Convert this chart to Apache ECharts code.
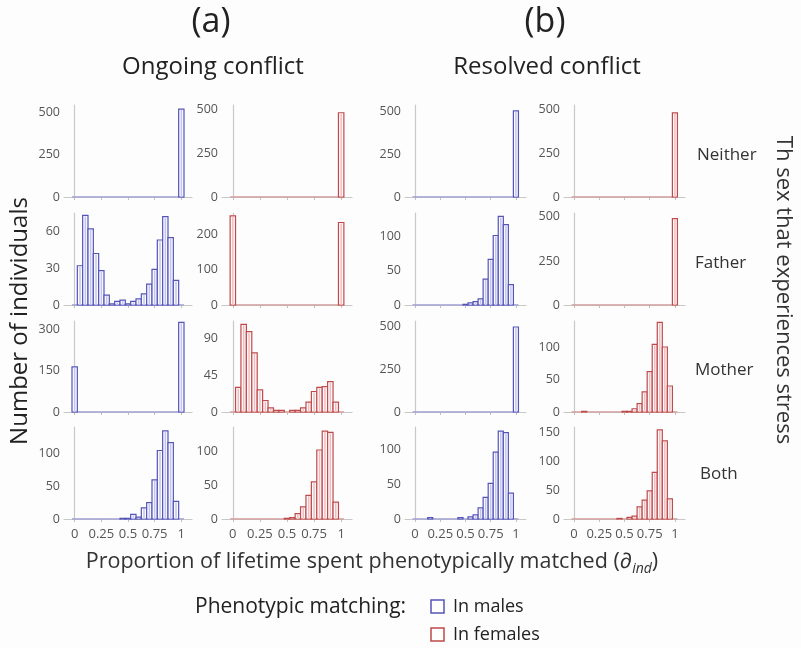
<!DOCTYPE html>
<html>
<head>
<meta charset="utf-8">
<script src="https://cdn.jsdelivr.net/npm/echarts@6/dist/echarts.min.js"></script>
<style>
  html, body { margin: 0; padding: 0; background: #fdfdfd; }
  #chart { width: 801px; height: 648px; }
</style>
</head>
<body>
<div id="chart"></div>
<script>
// bin centres (width 0.05)
var binCenters = [0, 0.05, 0.1, 0.15, 0.2, 0.25, 0.3, 0.35, 0.4, 0.45, 0.5, 0.55, 0.6, 0.65, 0.7, 0.75, 0.8, 0.85, 0.9, 0.95, 1];
var stressRows = ['Neither', 'Father', 'Mother', 'Both'];
var xTicks = [0, 0.25, 0.5, 0.75, 1];

// (a) ongoing conflict
var ongoingMaleNeither   = [0, 0, 0, 0, 0, 0, 0, 0, 0, 0, 0, 0, 0, 0, 0, 0, 0, 0, 0, 0, 522];
var ongoingMaleFather    = [0, 32, 73, 62, 42, 28, 8, 1, 3, 4, 1, 3, 5, 9, 17, 29, 53, 72, 55, 20, 0];
var ongoingMaleMother    = [164, 0, 0, 0, 0, 0, 0, 0, 0, 0, 0, 0, 0, 0, 0, 0, 0, 0, 0, 0, 325];
var ongoingMaleBoth      = [0, 0, 0, 0, 0, 0, 0, 0, 0, 1, 1, 7, 3, 17, 25, 60, 105, 135, 117, 27, 0];
var ongoingFemaleNeither = [0, 0, 0, 0, 0, 0, 0, 0, 0, 0, 0, 0, 0, 0, 0, 0, 0, 0, 0, 0, 480];
var ongoingFemaleFather  = [254, 0, 0, 0, 0, 0, 0, 0, 0, 0, 0, 0, 0, 0, 0, 0, 0, 0, 0, 0, 235];
var ongoingFemaleMother  = [0, 30, 107, 98, 72, 27, 14, 5, 2, 2, 0, 2, 2, 5, 12, 25, 30, 31, 37, 12, 0];
var ongoingFemaleBoth    = [0, 0, 0, 0, 0, 0, 0, 0, 0, 0, 1, 2, 8, 18, 35, 55, 102, 130, 128, 25, 0];

// (b) resolved conflict
var resolvedMaleNeither   = [0, 0, 0, 0, 0, 0, 0, 0, 0, 0, 0, 0, 0, 0, 0, 0, 0, 0, 0, 0, 505];
var resolvedMaleFather    = [0, 0, 0, 0, 0, 0, 0, 0, 0, 0, 1, 3, 5, 9, 38, 67, 102, 130, 118, 30, 0];
var resolvedMaleMother    = [0, 0, 0, 0, 0, 0, 0, 0, 0, 0, 0, 0, 0, 0, 0, 0, 0, 0, 0, 0, 495];
var resolvedMaleBoth      = [0, 0, 0, 2, 0, 0, 0, 0, 0, 2, 0, 3, 6, 16, 31, 51, 96, 126, 124, 37, 0];
var resolvedFemaleNeither = [0, 0, 0, 0, 0, 0, 0, 0, 0, 0, 0, 0, 0, 0, 0, 0, 0, 0, 0, 0, 480];
var resolvedFemaleFather  = [0, 0, 0, 0, 0, 0, 0, 0, 0, 0, 0, 0, 0, 0, 0, 0, 0, 0, 0, 0, 490];
var resolvedFemaleMother  = [0, 0, 1, 0, 0, 0, 0, 0, 0, 0, 1, 1, 5, 13, 31, 62, 104, 138, 100, 40, 0];
var resolvedFemaleBoth    = [0, 0, 0, 0, 0, 0, 0, 0, 0, 1, 0, 3, 5, 21, 33, 49, 81, 155, 136, 35, 0];

// y-axis top per panel [row][col] and tick labels
var yMax = [
  [546, 524, 540, 525],
  [75, 262, 135, 522],
  [330, 111, 530, 140],
  [141, 136, 132, 160]
];
var yTicks = [
  [[0, 250, 500], [0, 250, 500], [0, 250, 500], [0, 250, 500]],
  [[0, 30, 60], [0, 100, 200], [0, 50, 100], [0, 250, 500]],
  [[0, 150, 300], [0, 45, 90], [0, 250, 500], [0, 50, 100]],
  [[0, 50, 100], [0, 50, 100], [0, 50, 100], [0, 50, 100, 150]]
];

var panelData = [
  [ongoingMaleNeither, ongoingFemaleNeither, resolvedMaleNeither, resolvedFemaleNeither],
  [ongoingMaleFather, ongoingFemaleFather, resolvedMaleFather, resolvedFemaleFather],
  [ongoingMaleMother, ongoingFemaleMother, resolvedMaleMother, resolvedFemaleMother],
  [ongoingMaleBoth, ongoingFemaleBoth, resolvedMaleBoth, resolvedFemaleBoth]
];

var colLeft = [64, 222, 405, 564];
var colWidth = [128, 130, 121, 121];
var rowTop = [105, 213, 321, 427];
var rowHeight = [92, 92, 91, 92];

var maleColor = { stroke: '#5454b8', stripe: '#c4c4f2', base: '#9c9cd6' };
var femaleColor = { stroke: '#bf4a4a', stripe: '#f4bcbc', base: '#d49a9a' };
var font = '"Open Sans", "DejaVu Sans", sans-serif';

function barRenderer(col) {
  return function(params, api) {
    var c = api.value(0), n = api.value(1);
    if (!n) return;
    var p0 = api.coord([c - 0.025, 0]);
    var p1 = api.coord([c + 0.025, n]);
    var x = p0[0], y = p1[1], w = p1[0] - p0[0], h = p0[1] - p1[1];
    return {
      type: 'group',
      children: [
        { type: 'rect', shape: { x: x, y: y, width: w, height: h }, style: { fill: '#fbfbff', stroke: col.stroke, lineWidth: 1.2 } },
        { type: 'line', shape: { x1: x + w / 2, y1: y + 1, x2: x + w / 2, y2: y + h }, style: { stroke: col.stripe, lineWidth: 1.5 } }
      ]
    };
  };
}

var grids = [], xAxes = [], yAxes = [], series = [];
var idx = 0;
for (var r = 0; r < 4; r++) {
  for (var c = 0; c < 4; c++) {
    var col = (c % 2 === 0) ? maleColor : femaleColor;
    grids.push({ left: colLeft[c], top: rowTop[r], width: colWidth[c], height: rowHeight[r] });
    xAxes.push({
      gridIndex: idx, type: 'value', min: -0.1, max: 1.1, offset: 3,
      axisLine: { show: true, lineStyle: { color: '#c8c8c8', width: 1.2 } },
      axisTick: { show: true, customValues: xTicks, length: 3, lineStyle: { color: '#c0c0c0' } },
      axisLabel: { show: r === 3, customValues: xTicks, color: '#555', fontSize: 13, fontFamily: font, margin: 6 },
      splitLine: { show: false }
    });
    yAxes.push({
      gridIndex: idx, type: 'value', min: 0, max: yMax[r][c],
      axisLine: { show: true, lineStyle: { color: '#c8c8c8', width: 1.2 } },
      axisTick: { show: false },
      axisLabel: { customValues: yTicks[r][c], color: '#555', fontSize: 12.5, fontFamily: font, margin: 4 },
      splitLine: { show: false }
    });
    var pts = [];
    for (var i = 0; i < binCenters.length; i++) pts.push([binCenters[i], panelData[r][c][i]]);
    // baseline over the whole binned range
    series.push({
      type: 'line', xAxisIndex: idx, yAxisIndex: idx, symbol: 'none', silent: true,
      data: [[binCenters[0] - 0.025, 0], [binCenters[binCenters.length - 1] + 0.025, 0]],
      lineStyle: { color: col.base, width: 1.5 }, z: 1
    });
    series.push({
      type: 'custom', xAxisIndex: idx, yAxisIndex: idx, silent: true,
      renderItem: barRenderer(col), data: pts, z: 2, clip: false
    });
    idx++;
  }
}

var texts = [
  { x: 211, y: 22, text: '(a)', size: 34 },
  { x: 545, y: 22, text: '(b)', size: 34 },
  { x: 213, y: 67, text: 'Ongoing conflict', size: 24 },
  { x: 547, y: 67, text: 'Resolved conflict', size: 24 }
];
var graphics = texts.map(function(t) {
  return { type: 'text', x: t.x, y: t.y, style: { text: t.text, fontSize: t.size, fontFamily: font, fill: '#222', align: 'center', verticalAlign: 'middle' } };
});
var rowLabelY = [155, 263, 370, 474];
var rowLabelX = [697, 695, 695, 700];
stressRows.forEach(function(s, i) {
  graphics.push({ type: 'text', x: rowLabelX[i], y: rowLabelY[i], style: { text: s, fontSize: 17, fontFamily: font, fill: '#333', align: 'left', verticalAlign: 'middle' } });
});
graphics.push({ type: 'text', x: 20, y: 321, rotation: Math.PI / 2, style: { text: 'Number of individuals', fontSize: 24, fontFamily: font, fill: '#222', align: 'center', verticalAlign: 'middle' } });
graphics.push({ type: 'text', x: 783, y: 290, rotation: -Math.PI / 2, style: { text: 'Th sex that experiences stress', fontSize: 22, fontFamily: font, fill: '#333', align: 'center', verticalAlign: 'middle' } });
graphics.push({
  type: 'text', x: 372, y: 562,
  style: {
    text: '{a|Proportion of lifetime spent phenotypically matched (∂}{s|ind}{a|)}',
    fontFamily: font, align: 'center', verticalAlign: 'middle',
    rich: {
      a: { fontSize: 21.5, fontFamily: font, fill: '#333', lineHeight: 28, verticalAlign: 'middle' },
      s: { fontSize: 14, fontFamily: font, fontStyle: 'italic', fill: '#333', lineHeight: 28, verticalAlign: 'bottom', padding: [9, 0, 0, 0] }
    }
  }
});
// legend
graphics.push({ type: 'text', x: 195, y: 607, style: { text: 'Phenotypic matching:', fontSize: 21, fontFamily: font, fill: '#222', align: 'left', verticalAlign: 'middle' } });
graphics.push({ type: 'rect', shape: { x: 431, y: 600, width: 13, height: 13 }, style: { fill: '#fff', stroke: maleColor.stroke, lineWidth: 1.5 } });
graphics.push({ type: 'text', x: 453, y: 607, style: { text: 'In males', fontSize: 18, fontFamily: font, fill: '#222', align: 'left', verticalAlign: 'middle' } });
graphics.push({ type: 'rect', shape: { x: 431, y: 628, width: 13, height: 13 }, style: { fill: '#fff', stroke: femaleColor.stroke, lineWidth: 1.5 } });
graphics.push({ type: 'text', x: 453, y: 635, style: { text: 'In females', fontSize: 18, fontFamily: font, fill: '#222', align: 'left', verticalAlign: 'middle' } });

var myChart = echarts.init(document.getElementById('chart'));
myChart.setOption({
  backgroundColor: '#fdfdfd',
  animation: false,
  grid: grids,
  xAxis: xAxes,
  yAxis: yAxes,
  series: series,
  graphic: graphics
});
</script>
</body>
</html>
